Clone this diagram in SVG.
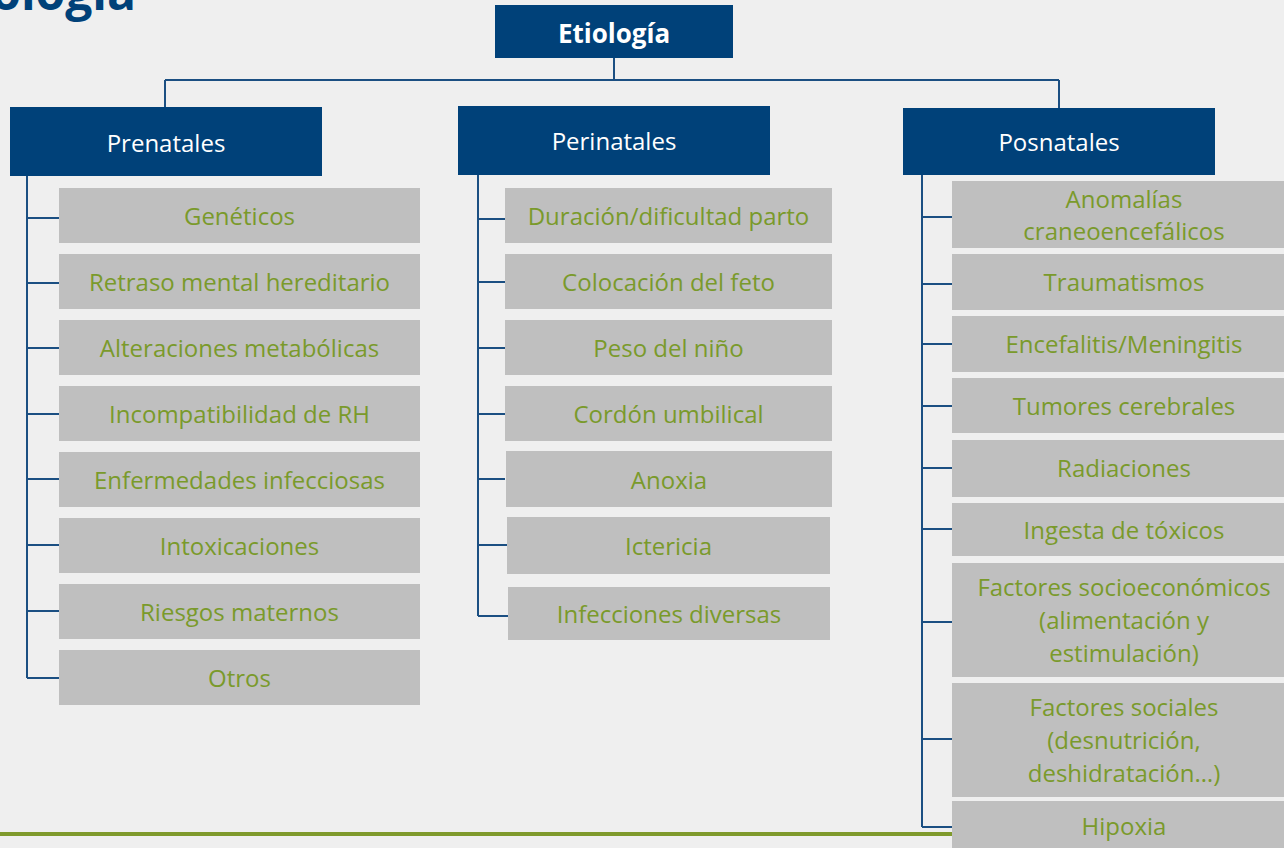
<svg xmlns="http://www.w3.org/2000/svg" width="1284" height="848" viewBox="0 0 1284 848">
<style>
.bg{fill:#efefef}
.hdr{fill:#004179}
.box{fill:#bfbfbf}
.ht{font-family:"Open Sans","Liberation Sans",sans-serif;font-size:24px;fill:#ffffff;text-anchor:middle}
.rt{font-family:"Open Sans","Liberation Sans",sans-serif;font-size:26px;font-weight:bold;fill:#ffffff;text-anchor:middle}
.ct{font-family:"Open Sans","Liberation Sans",sans-serif;font-size:24px;fill:#7a9a2b;text-anchor:middle}
.ln{fill:none;stroke:#1b4f82;stroke-width:2}
</style>
<rect class="bg" x="0" y="0" width="1284" height="848"/>
<text x="136" y="10" font-family="'Open Sans','Liberation Sans',sans-serif" font-size="48" font-weight="bold" fill="#004179" text-anchor="end">ología</text>
<line x1="0" y1="834" x2="954" y2="834" stroke="#7f9a2c" stroke-width="4"/>
<g id="connectors">
<path class="ln" d="M614 58V80M165 80H1059M165 80V107M1059 80V108"/>
<path class="ln" d="M27 170V678M27 218H59M27 283H59M27 348H59M27 414H59M27 479H59M27 545H59M27 611H59M27 678H59"/>
<path class="ln" d="M478 170V616M478 219H505M478 282H505M478 348H505M478 414H505M478 479H505M478 545H507M478 616H508"/>
<path class="ln" d="M922 170V827M922 217H952M922 284H952M922 344H952M922 406H952M922 468H952M922 529H952M922 622H952M922 739H952M922 827H952"/>
</g>
<g id="etiologia"><rect class="hdr" x="495" y="5" width="238" height="53"/><text class="rt" x="614" y="43">Etiología</text></g>
<g id="prenatales"><rect class="hdr" x="10" y="107" width="312" height="69"/><text class="ht" x="166" y="152">Prenatales</text></g>
<g id="perinatales"><rect class="hdr" x="458" y="106" width="312" height="69"/><text class="ht" x="614" y="150">Perinatales</text></g>
<g id="posnatales"><rect class="hdr" x="903" y="108" width="312" height="67"/><text class="ht" x="1059" y="151">Posnatales</text></g>
<g id="geneticos"><rect class="box" x="59" y="188" width="361" height="55"/><text class="ct" x="239.5" y="225">Genéticos</text></g>
<g id="retraso"><rect class="box" x="59" y="254" width="361" height="55"/><text class="ct" x="239.5" y="291">Retraso mental hereditario</text></g>
<g id="alteraciones"><rect class="box" x="59" y="320" width="361" height="55"/><text class="ct" x="239.5" y="357">Alteraciones metabólicas</text></g>
<g id="incompatibilidad"><rect class="box" x="59" y="386" width="361" height="55"/><text class="ct" x="239.5" y="423">Incompatibilidad de RH</text></g>
<g id="enfermedades"><rect class="box" x="59" y="452" width="361" height="55"/><text class="ct" x="239.5" y="489">Enfermedades infecciosas</text></g>
<g id="intoxicaciones"><rect class="box" x="59" y="518" width="361" height="55"/><text class="ct" x="239.5" y="555">Intoxicaciones</text></g>
<g id="riesgos"><rect class="box" x="59" y="584" width="361" height="55"/><text class="ct" x="239.5" y="621">Riesgos maternos</text></g>
<g id="otros"><rect class="box" x="59" y="650" width="361" height="55"/><text class="ct" x="239.5" y="687">Otros</text></g>
<g id="duracion"><rect class="box" x="505" y="188" width="327" height="55"/><text class="ct" x="668.5" y="225">Duración/dificultad parto</text></g>
<g id="colocacion"><rect class="box" x="505" y="254" width="327" height="55"/><text class="ct" x="668.5" y="291">Colocación del feto</text></g>
<g id="peso"><rect class="box" x="505" y="320" width="327" height="55"/><text class="ct" x="668.5" y="357">Peso del niño</text></g>
<g id="cordon"><rect class="box" x="505" y="386" width="327" height="55"/><text class="ct" x="668.5" y="423">Cordón umbilical</text></g>
<g id="anoxia"><rect class="box" x="506" y="451" width="326" height="56"/><text class="ct" x="669" y="489">Anoxia</text></g>
<g id="ictericia"><rect class="box" x="507" y="517" width="323" height="57"/><text class="ct" x="668.5" y="555">Ictericia</text></g>
<g id="infecciones"><rect class="box" x="508" y="587" width="322" height="53"/><text class="ct" x="669" y="623">Infecciones diversas</text></g>
<g id="anomalias"><rect class="box" x="952" y="181" width="344" height="67"/><text class="ct" x="1124" y="208">Anomalías</text><text class="ct" x="1124" y="240">craneoencefálicos</text></g>
<g id="traumatismos"><rect class="box" x="952" y="254" width="344" height="56"/><text class="ct" x="1124" y="291">Traumatismos</text></g>
<g id="encefalitis"><rect class="box" x="952" y="316" width="344" height="56"/><text class="ct" x="1124" y="353">Encefalitis/Meningitis</text></g>
<g id="tumores"><rect class="box" x="952" y="378" width="344" height="55"/><text class="ct" x="1124" y="415">Tumores cerebrales</text></g>
<g id="radiaciones"><rect class="box" x="952" y="440" width="344" height="57"/><text class="ct" x="1124" y="477">Radiaciones</text></g>
<g id="ingesta"><rect class="box" x="952" y="503" width="344" height="53"/><text class="ct" x="1124" y="539">Ingesta de tóxicos</text></g>
<g id="socioeconomicos"><rect class="box" x="952" y="563" width="344" height="114"/><text class="ct" x="1124" y="596">Factores socioeconómicos</text><text class="ct" x="1124" y="629">(alimentación y</text><text class="ct" x="1124" y="662">estimulación)</text></g>
<g id="sociales"><rect class="box" x="952" y="683" width="344" height="114"/><text class="ct" x="1124" y="716">Factores sociales</text><text class="ct" x="1124" y="749">(desnutrición,</text><text class="ct" x="1124" y="782">deshidratación…)</text></g>
<g id="hipoxia"><rect class="box" x="952" y="801" width="344" height="60"/><text class="ct" x="1124" y="835">Hipoxia</text></g>
</svg>
